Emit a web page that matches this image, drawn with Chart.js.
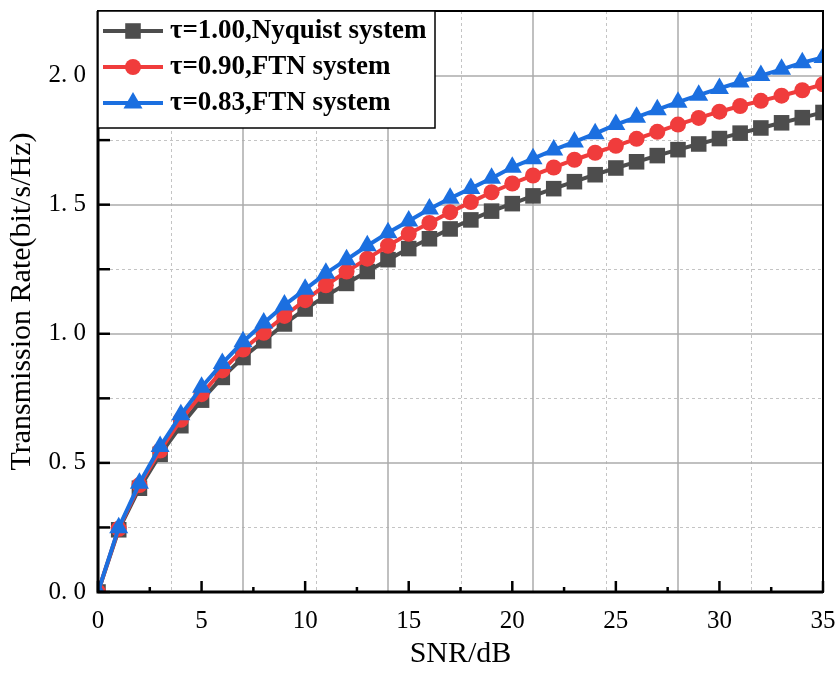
<!DOCTYPE html>
<html>
<head>
<meta charset="utf-8">
<script src="https://cdn.jsdelivr.net/npm/chart.js@4.4.1/dist/chart.umd.min.js"></script>
<style>
  html, body { margin: 0; padding: 0; background: #fff; }
  #wrap { width: 839px; height: 675px; }
</style>
</head>
<body>
<div id="wrap"><canvas id="rateChart" width="839" height="675"></canvas></div>
<script>
// --- données ---
const snr = [0, 1, 2, 3, 4, 5, 6, 7, 8, 9, 10, 11, 12, 13, 14, 15, 16, 17, 18, 19, 20,
             21, 22, 23, 24, 25, 26, 27, 28, 29, 30, 31, 32, 33, 34, 35];
const nyquist = [0, 0.241, 0.402, 0.533, 0.644, 0.743, 0.831, 0.908, 0.973, 1.038, 1.096,
                 1.146, 1.195, 1.241, 1.287, 1.330, 1.368, 1.406, 1.441, 1.475, 1.504,
                 1.534, 1.562, 1.589, 1.616, 1.642, 1.666, 1.690, 1.713, 1.735, 1.756,
                 1.777, 1.797, 1.817, 1.837, 1.857];
const ftn090 = [0, 0.245, 0.414, 0.548, 0.667, 0.766, 0.858, 0.939, 1.004, 1.069, 1.130,
                1.188, 1.241, 1.291, 1.341, 1.387, 1.429, 1.471, 1.510, 1.548, 1.582,
                1.613, 1.644, 1.674, 1.701, 1.728, 1.755, 1.782, 1.810, 1.836, 1.860,
                1.882, 1.902, 1.922, 1.943, 1.966];
const ftn083 = [0, 0.249, 0.421, 0.563, 0.686, 0.793, 0.885, 0.969, 1.042, 1.111, 1.172,
                1.234, 1.287, 1.341, 1.391, 1.437, 1.483, 1.525, 1.563, 1.602, 1.645,
                1.678, 1.712, 1.743, 1.775, 1.810, 1.839, 1.868, 1.897, 1.924, 1.950,
                1.975, 2.000, 2.024, 2.050, 2.070];
const seriesLabels = ['τ=1.00,Nyquist system', 'τ=0.90,FTN system', 'τ=0.83,FTN system'];

const xTicks = [0, 5, 10, 15, 20, 25, 30, 35];
const xMinorTicks = [2.5, 7.5, 12.5, 17.5, 22.5, 27.5, 32.5];
const yTicks = [0, 0.5, 1.0, 1.5, 2.0];
const yMinorTicks = [0.25, 0.75, 1.25, 1.75];
const xGridMajor = [7, 14, 21, 28];
const xGridMinor = [3.5, 10.5, 17.5, 24.5, 31.5];
const yGridMajor = [0.5, 1.0, 1.5, 2.0];
const yGridMinor = [0.25, 0.75, 1.25, 1.75];

const colors = ['#4d4d4d', '#f03c3c', '#1b6fe0'];
const styles = ['rect', 'circle', 'triangle'];
const radii = [11, 8, 11];
const SERIF = '"Liberation Serif", "Times New Roman", serif';

function drawMarker(ctx, style, x, y, r, color) {
    ctx.save();
    ctx.fillStyle = color;
    ctx.beginPath();
    if (style === 'rect') {
        const s = r * Math.SQRT1_2;
        ctx.rect(x - s, y - s, 2 * s, 2 * s);
    } else if (style === 'circle') {
        ctx.arc(x, y, r, 0, Math.PI * 2);
    } else {
        ctx.moveTo(x, y - r);
        ctx.lineTo(x + r * Math.sin(Math.PI / 3), y + r / 2);
        ctx.lineTo(x - r * Math.sin(Math.PI / 3), y + r / 2);
        ctx.closePath();
    }
    ctx.fill();
    ctx.restore();
}

// grille, graduations internes, cadre et légende
const framePlugin = {
    id: 'frame',
    beforeDatasetsDraw(chart) {
        const { ctx, chartArea: a, scales: { x, y } } = chart;
        ctx.save();
        ctx.lineWidth = 1;
        ctx.strokeStyle = '#c4c4c4';
        ctx.setLineDash([3, 3]);
        xGridMinor.forEach(v => {
            const px = Math.round(x.getPixelForValue(v)) + 0.5;
            ctx.beginPath(); ctx.moveTo(px, a.top); ctx.lineTo(px, a.bottom); ctx.stroke();
        });
        yGridMinor.forEach(v => {
            const py = Math.round(y.getPixelForValue(v)) + 0.5;
            ctx.beginPath(); ctx.moveTo(a.left, py); ctx.lineTo(a.right, py); ctx.stroke();
        });
        ctx.setLineDash([]);
        ctx.strokeStyle = '#ababab';
        ctx.lineWidth = 1.5;
        xGridMajor.forEach(v => {
            const px = Math.round(x.getPixelForValue(v));
            ctx.beginPath(); ctx.moveTo(px, a.top); ctx.lineTo(px, a.bottom); ctx.stroke();
        });
        yGridMajor.forEach(v => {
            const py = Math.round(y.getPixelForValue(v));
            ctx.beginPath(); ctx.moveTo(a.left, py); ctx.lineTo(a.right, py); ctx.stroke();
        });
        ctx.restore();
    },
    afterDraw(chart) {
        const { ctx, chartArea: a, scales: { x, y } } = chart;
        ctx.save();
        ctx.strokeStyle = '#000';
        ctx.lineWidth = 2.5;
        xTicks.forEach(v => {
            const px = x.getPixelForValue(v);
            ctx.beginPath(); ctx.moveTo(px, a.bottom); ctx.lineTo(px, a.bottom - 11); ctx.stroke();
        });
        xMinorTicks.forEach(v => {
            const px = x.getPixelForValue(v);
            ctx.beginPath(); ctx.moveTo(px, a.bottom); ctx.lineTo(px, a.bottom - 5); ctx.stroke();
        });
        yTicks.concat(yMinorTicks).forEach(v => {
            const py = y.getPixelForValue(v);
            ctx.beginPath(); ctx.moveTo(a.left, py); ctx.lineTo(a.left + 12, py); ctx.stroke();
        });
        // cadre
        ctx.lineWidth = 2;
        ctx.strokeRect(a.left, a.top, a.right - a.left, a.bottom - a.top);
        ctx.lineWidth = 3;
        ctx.beginPath();
        ctx.moveTo(a.left, a.top); ctx.lineTo(a.left, a.bottom); ctx.lineTo(a.right, a.bottom);
        ctx.stroke();

        // légende
        const lx = a.left, ly = a.top, lw = 337, lh = 117;
        ctx.fillStyle = '#fff';
        ctx.fillRect(lx, ly, lw, lh);
        ctx.lineWidth = 1.5;
        ctx.strokeRect(lx, ly, lw, lh);
        const baselines = [38, 74, 110];
        ctx.font = 'bold 27px ' + SERIF;
        ctx.textBaseline = 'alphabetic';
        seriesLabels.forEach((lab, i) => {
            const cy = baselines[i] - 7;
            ctx.strokeStyle = colors[i];
            ctx.lineWidth = 4;
            ctx.beginPath(); ctx.moveTo(103, cy); ctx.lineTo(163, cy); ctx.stroke();
            drawMarker(ctx, styles[i], 133, cy, radii[i], colors[i]);
            ctx.fillStyle = '#000';
            ctx.fillText(lab, 170, baselines[i]);
        });
        ctx.restore();
    }
};

document.addEventListener('DOMContentLoaded', () => {
    const ctxEl = document.getElementById('rateChart');
    const allSeries = [nyquist, ftn090, ftn083];

    new Chart(ctxEl, {
        type: 'line',
        data: {
            datasets: allSeries.map((vals, i) => ({
                label: seriesLabels[i],
                data: snr.map((s, k) => ({ x: s, y: vals[k] })),
                borderColor: colors[i],
                backgroundColor: colors[i],
                borderWidth: 4,
                pointStyle: styles[i],
                pointRadius: radii[i],
                pointBorderWidth: 0,
                pointBackgroundColor: colors[i],
                tension: 0,
                clip: 0,
                order: 2 - i
            }))
        },
        options: {
            responsive: false,
            animation: false,
            layout: { padding: { left: 0, top: 5, right: 16, bottom: 0 } },
            plugins: {
                legend: { display: false },
                tooltip: { enabled: false }
            },
            scales: {
                x: {
                    type: 'linear',
                    min: 0,
                    max: 35,
                    grid: { display: false, drawTicks: false },
                    border: { display: false },
                    afterBuildTicks: s => { s.ticks = xTicks.map(v => ({ value: v })); },
                    afterFit: s => {
                        s.height = 83;
                        s.paddingLeft = 0; s.paddingRight = 0;
                    },
                    ticks: {
                        color: '#000',
                        padding: 14,
                        maxRotation: 0,
                        font: { family: SERIF, size: 25 }
                    },
                    title: {
                        display: true,
                        text: 'SNR/dB',
                        color: '#000',
                        padding: { top: 0, bottom: 3 },
                        font: { family: SERIF, size: 30 }
                    }
                },
                y: {
                    min: 0,
                    max: 2.25,
                    grid: { display: false, drawTicks: false },
                    border: { display: false },
                    afterBuildTicks: s => { s.ticks = yTicks.map(v => ({ value: v })); },
                    afterFit: s => {
                        s.width = 98;
                        s.paddingTop = 0; s.paddingBottom = 0;
                    },
                    ticks: {
                        color: '#000',
                        padding: 12,
                        font: { family: SERIF, size: 25 },
                        callback: v => v.toFixed(1).replace('.', '. ')
                    },
                    title: {
                        display: true,
                        text: 'Transmission Rate(bit/s/Hz)',
                        color: '#000',
                        padding: { top: 4, bottom: 0 },
                        font: { family: SERIF, size: 30 }
                    }
                }
            }
        },
        plugins: [framePlugin]
    });
});
</script>
</body>
</html>
